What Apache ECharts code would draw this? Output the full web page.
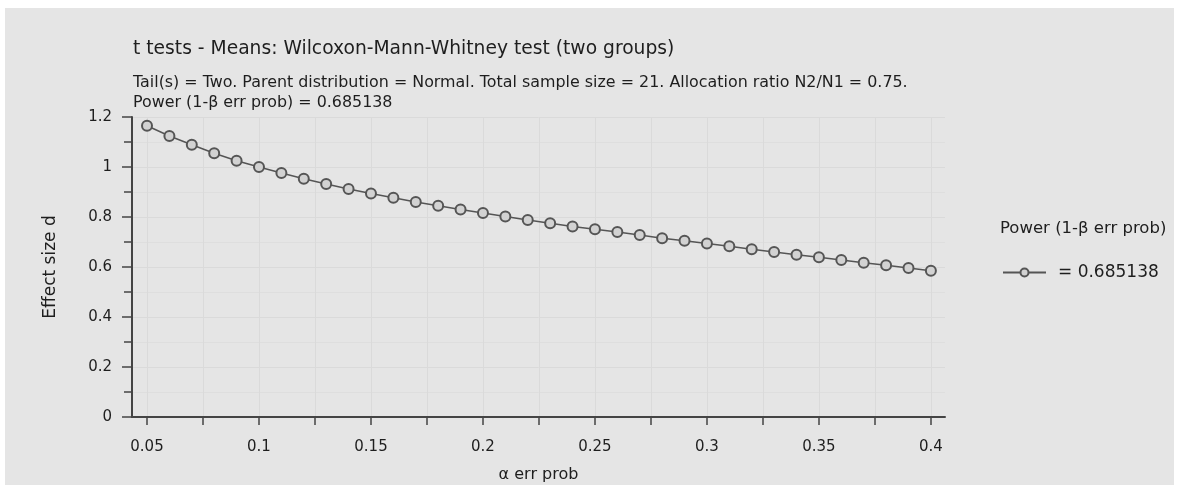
<!DOCTYPE html>
<html>
<head>
<meta charset="utf-8">
<script src="https://cdn.jsdelivr.net/npm/echarts@6/dist/echarts.min.js"></script>
<style>
  html, body { margin: 0; padding: 0; background: #fff; }
  #chart { position: absolute; left: 5px; top: 8px; width: 1169px; height: 477px; background: #e5e5e5; }
</style>
</head>
<body>
<div id="chart"></div>
<script>
// alpha err prob on x, effect size d on y
const alphaValues = [0.05, 0.06, 0.07, 0.08, 0.09, 0.10, 0.11, 0.12, 0.13, 0.14,
  0.15, 0.16, 0.17, 0.18, 0.19, 0.20, 0.21, 0.22, 0.23, 0.24, 0.25, 0.26,
  0.27, 0.28, 0.29, 0.30, 0.31, 0.32, 0.33, 0.34, 0.35, 0.36, 0.37, 0.38, 0.39, 0.40];
const effectSize = [1.165, 1.124, 1.089, 1.055, 1.025, 1.000, 0.976, 0.953, 0.932, 0.912,
  0.894, 0.877, 0.860, 0.845, 0.830, 0.816, 0.802, 0.788, 0.775, 0.762, 0.751, 0.740,
  0.728, 0.715, 0.705, 0.694, 0.683, 0.671, 0.660, 0.649, 0.639, 0.628, 0.617, 0.607, 0.596, 0.585];
const xTickLabels = [0.05, 0.1, 0.15, 0.2, 0.25, 0.3, 0.35, 0.4];
const xTicks = [0.05, 0.075, 0.1, 0.125, 0.15, 0.175, 0.2, 0.225, 0.25, 0.275, 0.3, 0.325, 0.35, 0.375, 0.4];

const titleText = 't tests - Means: Wilcoxon-Mann-Whitney test (two groups)';
const subText = 'Tail(s) = Two. Parent distribution = Normal. Total sample size = 21. Allocation ratio N2/N1 = 0.75.\nPower (1-β err prob) = 0.685138';
const seriesName = '= 0.685138';

const font = '"DejaVu Sans", "Liberation Sans", Arial, sans-serif';
const ink = '#1e1e1e';
const chart = echarts.init(document.getElementById('chart'));

const option = {
  backgroundColor: '#e5e5e5',
  animation: false,
  textStyle: { fontFamily: font },
  title: [
    {
      text: titleText,
      left: 128, top: 32, padding: 0,
      textStyle: { fontFamily: font, fontSize: 18.7, fontWeight: 'normal', color: ink }
    },
    {
      text: subText,
      left: 128, top: 65, padding: 0,
      textStyle: { fontFamily: font, fontSize: 15.9, fontWeight: 'normal', color: ink, lineHeight: 20 }
    },
    {
      text: 'Power (1-β err prob)',
      left: 995, top: 212, padding: 0,
      textStyle: { fontFamily: font, fontSize: 16.5, fontWeight: 'normal', color: ink }
    }
  ],
  legend: {
    data: [seriesName],
    left: 997, top: 256, padding: 0,
    itemWidth: 43, itemHeight: 10,
    textStyle: { fontFamily: font, fontSize: 17, color: ink, padding: [0, 0, 0, 7] }
  },
  grid: { left: 127, top: 109, right: 229, bottom: 68, outerBoundsMode: 'none' },
  xAxis: {
    type: 'value',
    min: 0.0433, max: 0.4063,
    name: 'α err prob',
    nameLocation: 'middle',
    nameGap: 50,
    nameTextStyle: { fontFamily: font, fontSize: 16, color: ink },
    axisLine: { lineStyle: { color: '#444', width: 2 } },
    axisTick: { show: true, length: 8, customValues: xTicks, lineStyle: { color: '#444', width: 1.5 } },
    axisLabel: {
      customValues: xTickLabels, margin: 23,
      fontFamily: font, fontSize: 15, color: ink,
      formatter: v => String(+v.toFixed(3))
    },
    splitLine: { show: true, lineStyle: { color: '#dadada', width: 1 } }
  },
  yAxis: {
    type: 'value',
    min: 0, max: 1.2, interval: 0.2,
    name: 'Effect size d',
    nameLocation: 'middle',
    nameGap: 73,
    nameRotate: 90,
    nameTextStyle: { fontFamily: font, fontSize: 17, color: ink },
    axisLine: { show: true, lineStyle: { color: '#444', width: 2 } },
    axisTick: { show: true, length: 10, lineStyle: { color: '#444', width: 1.5 } },
    minorTick: { show: true, splitNumber: 2, length: 8, lineStyle: { color: '#444', width: 1.5 } },
    axisLabel: { margin: 20, fontFamily: font, fontSize: 15, color: ink },
    splitLine: { show: true, lineStyle: { color: '#dadada', width: 1 } },
    minorSplitLine: { show: true, lineStyle: { color: '#dedede', width: 1 } }
  },
  series: [
    {
      name: seriesName,
      type: 'line',
      data: alphaValues.map((a, i) => [a, effectSize[i]]),
      symbol: 'circle',
      symbolSize: 10,
      showAllSymbol: true,
      lineStyle: { color: '#555', width: 1.5 },
      itemStyle: { color: '#d2d2d2', borderColor: '#555', borderWidth: 2 }
    }
  ]
};

chart.setOption(option);
window.addEventListener('resize', function () {
  chart.resize();
});
</script>
</body>
</html>
